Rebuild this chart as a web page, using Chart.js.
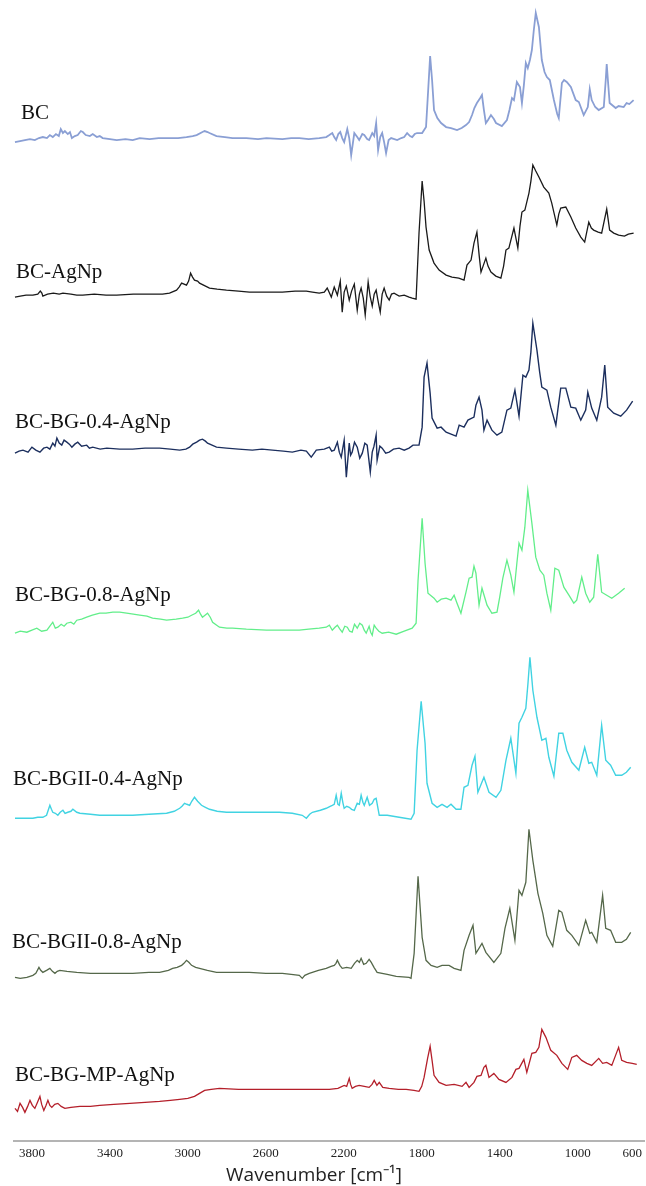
<!DOCTYPE html>
<html lang="en">
<head>
  <meta charset="UTF-8">
  <title>FTIR spectra</title>
  <script src="https://cdn.jsdelivr.net/npm/chart.js"></script>
  <style>
    body {
      margin: 0;
      background-color: #fff;
    }
    canvas {
      display: block;
    }
  </style>
</head>
<body>
  <canvas id="grafico" width="646" height="1186"></canvas>

  <script>
    // sample names, top to bottom
    const muestras = ['BC', 'BC-AgNp', 'BC-BG-0.4-AgNp', 'BC-BG-0.8-AgNp',
      'BC-BGII-0.4-AgNp', 'BC-BGII-0.8-AgNp', 'BC-BG-MP-AgNp'];

    // vertical offset of each spectrum (stacked plot)
    const desplazamientos = [1001, 845, 689, 509, 323, 164, 33];

    // x axis ticks (wavenumber) and the text under them
    const ticksX = [3800, 3400, 3000, 2600, 2200, 1800, 1400, 1000, 720];
    const etiquetasX = ['3800', '3400', '3000', '2600', '2200', '1800', '1400', '1000', '600'];
    const tituloX = 'Wavenumber [cm\u207B\u00B9]';

    // spectra: [wavenumber, relative absorbance]
    const specBC = [
      [3887,-2],[3861,-1],[3836,0],[3810,1],[3785,0],[3764,2],[3744,3],[3723,2],[3708,5],[3693,3],
      [3677,6],[3662,4],[3652,11],[3641,7],[3631,9],[3616,6],[3605,8],[3595,2],[3580,4],[3565,5],
      [3549,9],[3539,8],[3524,5],[3503,4],[3488,6],[3467,3],[3452,4],[3437,2],[3400,1],[3365,0],
      [3320,1],[3283,0],[3247,2],[3196,1],[3150,2],[3109,2],[3050,2],[3007,3],[2975,4],[2955,5],
      [2925,8],[2914,9],[2899,8],[2889,7],[2853,4],[2810,3],[2771,2],[2700,2],[2640,1],[2597,2],
      [2515,1],[2470,2],[2428,2],[2380,1],[2326,2],[2290,3],[2274,5],[2259,7],[2249,3],[2239,0],
      [2228,6],[2218,8],[2208,2],[2198,-2],[2182,11],[2172,2],[2162,-15],[2146,7],[2131,3],[2121,0],
      [2105,6],[2095,5],[2080,1],[2070,0],[2054,7],[2044,4],[2034,17],[2024,-10],[2013,3],[2003,7],
      [1993,-2],[1983,-13],[1970,0],[1957,2],[1926,0],[1905,2],[1890,3],[1875,7],[1860,4],[1849,3],
      [1836,6],[1824,7],[1798,7],[1778,13],[1767,50],[1757,84],[1747,60],[1737,30],[1720,22],[1701,17],
      [1675,13],[1650,12],[1619,10],[1595,12],[1573,15],[1557,18],[1542,25],[1530,32],[1517,37],[1500,42],
      [1491,45],[1481,30],[1471,17],[1460,20],[1445,25],[1430,21],[1419,17],[1389,14],[1363,20],[1350,30],
      [1337,42],[1327,40],[1312,58],[1296,53],[1286,37],[1276,55],[1266,77],[1256,72],[1245,80],[1235,90],
      [1225,110],[1215,127],[1199,113],[1184,80],[1170,68],[1158,63],[1143,60],[1122,40],[1105,26],[1097,22],
      [1081,57],[1070,60],[1056,58],[1035,53],[1010,40],[994,38],[969,25],[948,33],[938,51],[928,40],
      [910,33],[892,30],[866,33],[856,60],[851,76],[843,55],[836,37],[805,32],[790,34],[764,33],
      [749,37],[735,36],[713,40]
    ];

    const specAgNp = [
      [3887,-1],[3860,0],[3830,1],[3795,1],[3770,2],[3757,5],[3749,3],[3744,0],[3720,2],[3690,3],
      [3660,2],[3641,3],[3600,2],[3570,1],[3539,1],[3480,2],[3420,1],[3365,1],[3280,2],[3196,2],
      [3130,2],[3094,3],[3058,6],[3045,9],[3032,13],[3007,11],[2996,15],[2986,23],[2976,19],[2966,16],
      [2950,15],[2940,13],[2889,8],[2850,7],[2802,6],[2740,5],[2684,4],[2600,4],[2515,4],[2450,5],
      [2392,5],[2361,4],[2326,3],[2300,4],[2285,8],[2264,-1],[2249,9],[2233,1],[2218,15],[2208,-16],
      [2198,4],[2187,10],[2172,-4],[2160,5],[2146,12],[2131,-14],[2120,2],[2111,8],[2100,-2],[2090,-19],
      [2075,14],[2065,0],[2054,-10],[2044,2],[2034,6],[2024,-5],[2013,-16],[2003,2],[1993,8],[1980,0],
      [1967,-4],[1955,2],[1942,3],[1916,0],[1890,1],[1865,-1],[1849,-2],[1829,-3],[1814,63],[1798,115],
      [1788,95],[1778,69],[1762,46],[1737,33],[1711,26],[1675,21],[1645,19],[1610,18],[1583,16],[1568,31],
      [1547,36],[1532,53],[1517,64],[1505,40],[1496,24],[1471,38],[1460,30],[1445,24],[1420,20],[1394,18],
      [1380,30],[1368,46],[1353,48],[1327,68],[1307,48],[1296,70],[1286,84],[1271,86],[1250,103],[1240,115],
      [1230,131],[1215,125],[1199,119],[1174,109],[1148,103],[1133,93],[1107,71],[1097,82],[1087,88],[1061,89],
      [1035,79],[1010,68],[984,59],[964,54],[943,74],[930,68],[918,66],[895,64],[877,63],[851,87],
      [836,66],[815,63],[790,61],[760,60],[740,62],[713,63]
    ];

    const specBG04 = [
      [3887,-1],[3866,1],[3846,2],[3820,0],[3800,5],[3780,2],[3759,0],[3740,4],[3723,5],[3708,3],
      [3693,9],[3682,6],[3672,14],[3660,9],[3647,7],[3635,12],[3621,10],[3608,8],[3595,5],[3580,8],
      [3565,10],[3545,6],[3519,7],[3505,4],[3488,5],[3450,3],[3416,4],[3350,3],[3283,3],[3220,4],
      [3145,4],[3090,3],[3042,2],[3010,3],[2991,5],[2975,8],[2955,10],[2940,12],[2925,13],[2910,11],
      [2899,9],[2853,5],[2802,4],[2740,3],[2669,2],[2620,3],[2566,2],[2510,1],[2464,0],[2420,2],
      [2392,1],[2367,-5],[2341,2],[2300,3],[2274,5],[2262,1],[2249,2],[2233,10],[2223,0],[2213,-5],
      [2198,12],[2187,-25],[2172,9],[2165,-3],[2157,0],[2145,10],[2131,5],[2118,-6],[2105,-1],[2092,9],
      [2080,7],[2064,-20],[2054,0],[2045,6],[2034,17],[2029,-8],[2015,6],[2003,4],[1985,-1],[1967,0],
      [1945,3],[1916,4],[1890,2],[1865,4],[1845,7],[1824,7],[1814,7],[1798,25],[1788,75],[1773,89],
      [1757,59],[1747,34],[1721,24],[1701,25],[1675,20],[1624,16],[1608,27],[1583,25],[1563,32],[1532,35],
      [1522,47],[1506,55],[1491,42],[1481,22],[1465,32],[1440,22],[1414,17],[1389,20],[1363,42],[1343,44],
      [1322,62],[1301,36],[1281,77],[1266,75],[1250,82],[1240,100],[1230,129],[1209,102],[1195,80],[1184,65],
      [1158,62],[1138,45],[1112,27],[1100,45],[1087,64],[1061,64],[1035,45],[1010,44],[984,32],[959,42],
      [948,60],[928,44],[902,32],[877,55],[861,87],[846,45],[815,39],[779,36],[749,42],[718,51]
    ];

    const specBG08 = [
      [3887,-1],[3860,1],[3826,0],[3800,2],[3775,4],[3750,1],[3723,2],[3708,6],[3693,10],[3680,4],
      [3667,5],[3650,8],[3635,6],[3621,9],[3600,10],[3585,8],[3570,12],[3545,13],[3519,15],[3490,17],
      [3452,19],[3420,19],[3385,20],[3350,20],[3314,19],[3280,18],[3247,17],[3210,16],[3181,14],[3140,13],
      [3109,12],[3060,13],[3027,14],[3000,15],[2981,17],[2960,19],[2945,22],[2935,18],[2925,15],[2912,17],
      [2899,19],[2885,15],[2873,10],[2838,5],[2800,4],[2771,4],[2700,3],[2597,2],[2500,2],[2428,2],
      [2380,3],[2326,4],[2290,5],[2274,7],[2259,2],[2245,5],[2233,7],[2220,3],[2208,0],[2195,6],
      [2182,5],[2170,1],[2157,0],[2145,8],[2131,4],[2118,9],[2105,7],[2095,2],[2085,-1],[2070,6],
      [2062,0],[2054,-3],[2044,7],[2034,4],[2020,1],[2003,-1],[1970,0],[1931,-2],[1890,1],[1849,4],
      [1829,9],[1819,52],[1798,114],[1783,69],[1768,39],[1737,34],[1721,30],[1700,33],[1675,34],[1650,32],
      [1634,37],[1619,29],[1599,19],[1573,40],[1557,54],[1542,55],[1532,66],[1522,59],[1506,27],[1491,44],
      [1465,27],[1440,19],[1414,20],[1400,35],[1384,54],[1363,72],[1343,57],[1327,40],[1312,69],[1301,89],
      [1286,82],[1271,105],[1256,142],[1235,109],[1215,75],[1194,62],[1174,57],[1158,39],[1138,22],[1117,64],
      [1097,62],[1071,45],[1045,37],[1020,29],[1005,32],[979,55],[959,39],[938,30],[918,35],[897,78],
      [877,40],[851,37],[825,34],[790,39],[759,44]
    ];

    const specBGII04 = [
      [3887,0],[3840,0],[3795,0],[3770,1],[3744,1],[3725,3],[3708,13],[3700,9],[3693,6],[3680,5],
      [3667,3],[3655,6],[3641,8],[3630,5],[3616,6],[3600,7],[3590,9],[3570,6],[3554,5],[3500,4],
      [3452,3],[3370,3],[3283,3],[3200,4],[3109,5],[3070,7],[3042,10],[3030,12],[3017,15],[3005,14],
      [2991,13],[2980,17],[2966,21],[2950,17],[2930,13],[2910,11],[2889,9],[2850,7],[2802,6],[2700,6],
      [2597,6],[2530,6],[2464,5],[2413,3],[2392,0],[2375,4],[2361,6],[2320,8],[2290,10],[2270,12],
      [2259,13],[2249,14],[2239,23],[2230,14],[2223,13],[2213,25],[2205,16],[2198,10],[2185,12],[2172,11],
      [2160,9],[2146,8],[2131,15],[2120,14],[2111,23],[2102,16],[2095,13],[2080,21],[2068,13],[2054,15],
      [2044,19],[2034,20],[2018,3],[1977,3],[1916,1],[1855,-1],[1839,5],[1824,68],[1803,117],[1783,75],
      [1773,35],[1747,15],[1721,11],[1696,14],[1670,11],[1650,14],[1624,9],[1599,9],[1583,31],[1563,33],
      [1542,53],[1527,62],[1512,26],[1481,41],[1455,26],[1419,21],[1394,28],[1368,58],[1343,80],[1317,45],
      [1301,95],[1286,101],[1266,110],[1255,135],[1245,161],[1230,128],[1209,101],[1184,78],[1163,80],[1148,61],
      [1122,42],[1097,85],[1076,85],[1056,68],[1030,56],[994,48],[964,71],[943,55],[928,56],[902,43],
      [877,93],[856,58],[831,53],[805,43],[774,43],[750,46],[728,51]
    ];

    const specBGII08 = [
      [3887,0],[3860,-1],[3826,0],[3810,1],[3795,2],[3780,4],[3764,10],[3755,7],[3744,5],[3725,7],
      [3708,9],[3695,6],[3682,4],[3670,6],[3657,7],[3620,6],[3570,5],[3500,4],[3452,4],[3370,4],
      [3283,4],[3200,5],[3145,5],[3100,7],[3078,9],[3055,10],[3032,12],[3020,14],[3007,17],[2995,15],
      [2981,12],[2960,10],[2940,9],[2900,7],[2853,5],[2770,5],[2684,5],[2600,4],[2515,4],[2470,3],
      [2428,2],[2413,-1],[2400,2],[2377,4],[2330,7],[2290,9],[2265,11],[2249,12],[2240,14],[2233,17],
      [2220,12],[2208,9],[2185,10],[2162,9],[2145,14],[2131,17],[2120,15],[2111,19],[2098,13],[2085,14],
      [2070,18],[2059,15],[2045,10],[2029,5],[1977,3],[1931,1],[1865,0],[1855,-1],[1839,24],[1819,101],
      [1798,40],[1778,17],[1752,12],[1721,10],[1696,12],[1660,12],[1634,9],[1599,7],[1583,27],[1557,42],
      [1537,52],[1522,24],[1491,34],[1471,25],[1430,15],[1394,24],[1373,49],[1348,69],[1322,37],[1301,87],
      [1286,82],[1266,95],[1250,148],[1230,117],[1204,84],[1179,64],[1158,42],[1128,31],[1097,67],[1081,65],
      [1056,47],[1030,42],[994,32],[959,57],[938,44],[928,45],[902,35],[872,82],[856,49],[831,47],
      [805,35],[774,35],[750,38],[728,45]
    ];

    const specMP = [
      [3887,0],[3874,-3],[3861,5],[3848,1],[3836,-4],[3822,2],[3810,8],[3798,3],[3785,0],[3772,6],
      [3759,12],[3750,4],[3739,-2],[3728,3],[3718,8],[3708,3],[3698,1],[3683,4],[3667,5],[3650,2],
      [3631,0],[3600,1],[3554,2],[3500,2],[3452,3],[3380,4],[3298,5],[3220,6],[3145,7],[3090,8],
      [3042,9],[3000,10],[2966,12],[2940,15],[2914,18],[2880,19],[2838,20],[2740,19],[2633,19],[2530,19],
      [2428,19],[2350,19],[2274,19],[2230,20],[2198,23],[2185,22],[2172,30],[2165,24],[2157,20],[2140,22],
      [2121,23],[2095,22],[2070,21],[2055,24],[2044,28],[2030,23],[2018,26],[2000,21],[1967,20],[1920,19],
      [1880,19],[1840,18],[1814,17],[1800,22],[1788,31],[1770,50],[1757,62],[1747,48],[1737,33],[1711,26],
      [1675,23],[1634,24],[1593,22],[1573,26],[1557,21],[1532,26],[1517,32],[1496,33],[1481,41],[1471,43],
      [1455,31],[1430,35],[1404,29],[1368,26],[1337,31],[1317,39],[1301,40],[1276,49],[1261,36],[1235,55],
      [1215,56],[1199,61],[1184,79],[1163,71],[1138,58],[1107,53],[1081,45],[1051,39],[1030,51],[1005,53],
      [979,48],[953,45],[928,43],[892,50],[872,45],[851,46],[825,43],[790,61],[774,48],[749,46],
      [720,45],[697,44]
    ];

    const espectros = [specBC, specAgNp, specBG04, specBG08, specBGII04, specBGII08, specMP];
    const colores = ['#8a9fd4', '#1a1a1a', '#1c2f5e', '#62ee8a', '#41d3e2', '#55684a', '#b41f2a'];
    const grosores = [1.8, 1.3, 1.4, 1.3, 1.4, 1.3, 1.3];

    // label placement: px from left, lift above baseline (y units)
    const posEtiquetas = [[21, 27], [16, 24], [15, 30], [15, 37], [13, 39], [12, 35], [15, 33]];

    const datasets = espectros.map((spec, i) => ({
      label: muestras[i],
      data: spec.map(([w, a]) => ({ x: w, y: desplazamientos[i] + a })),
      borderColor: colores[i],
      borderWidth: grosores[i],
      pointRadius: 0,
      tension: 0,
      fill: false
    }));

    const textosExtra = {
      id: 'textosExtra',
      afterDatasetsDraw(chart) {
        const ctx = chart.ctx;
        const y = chart.scales.y;
        ctx.save();
        ctx.fillStyle = '#111';
        ctx.font = '21px "Liberation Serif", serif';
        ctx.textBaseline = 'middle';
        ctx.textAlign = 'left';
        muestras.forEach((m, i) => {
          const [px, lift] = posEtiquetas[i];
          ctx.fillText(m, px, y.getPixelForValue(desplazamientos[i] + lift));
        });
        // axis title
        ctx.fillStyle = '#222';
        ctx.font = '19px "Open Sans", sans-serif';
        ctx.textAlign = 'center';
        ctx.fillText(tituloX, 314, 1176);
        ctx.restore();
      }
    };

    new Chart(document.getElementById('grafico'), {
      type: 'line',
      data: { datasets },
      options: {
        responsive: false,
        animation: false,
        layout: { padding: { left: 14, right: 0, top: 0, bottom: 21 } },
        plugins: {
          legend: { display: false },
          tooltip: { enabled: false }
        },
        scales: {
          x: {
            type: 'linear',
            reverse: true,
            min: 655,
            max: 3892,
            grid: { display: false, drawTicks: false },
            border: { display: true, color: '#b4b4b4', width: 2 },
            afterBuildTicks(axis) {
              axis.ticks = ticksX.map(v => ({ value: v }));
            },
            ticks: {
              autoSkip: false,
              maxRotation: 0,
              padding: 4,
              color: '#222',
              font: { family: '"Liberation Serif", serif', size: 13 },
              callback: (v) => etiquetasX[ticksX.indexOf(v)]
            }
          },
          y: {
            display: false,
            min: 0,
            max: 1141
          }
        }
      },
      plugins: [textosExtra]
    });
  </script>
</body>
</html>
